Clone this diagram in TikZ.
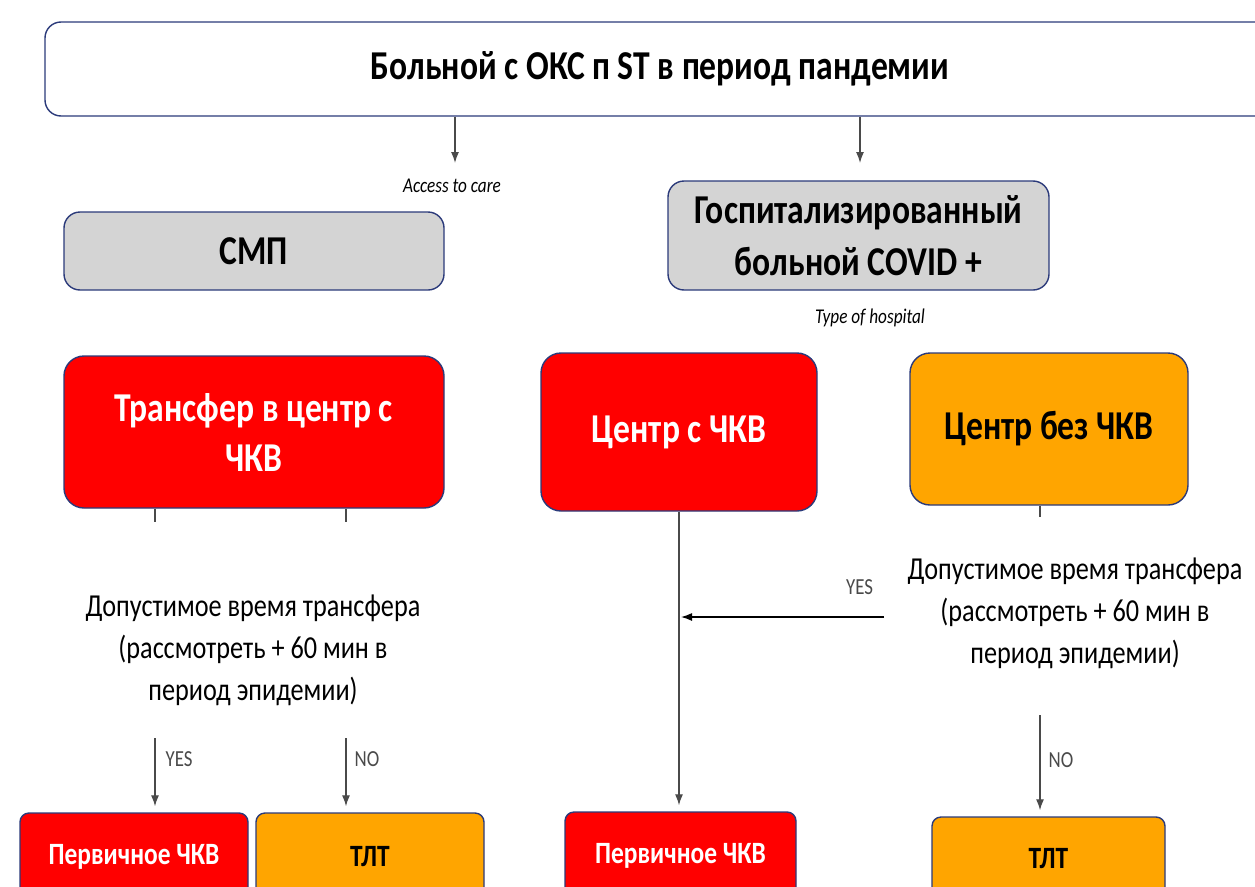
\documentclass[tikz,border=0pt]{standalone}
\usepackage{fontspec}
\setmainfont{Carlito}
\newfontfamily\cond[FakeStretch=0.82]{Carlito}
\usetikzlibrary{arrows.meta}
\definecolor{navy}{HTML}{2B3A7A}
\definecolor{boxgray}{HTML}{D4D4D4}
\definecolor{myred}{HTML}{FF0000}
\definecolor{myorange}{HTML}{FFA500}
\definecolor{lingray}{HTML}{4A4A4A}
\tikzset{
  box/.style={draw=navy, line width=1.4pt, rounded corners=16pt, align=center, inner sep=0pt, font=\cond\bfseries},
  graybox/.style={box, fill=boxgray, text=black},
  redbox/.style={box, fill=myred, text=white},
  orangebox/.style={box, fill=myorange, text=black},
  smallbox/.style={rounded corners=9pt},
  conn/.style={draw=lingray, line width=1.3pt},
  arr/.style={conn, -{Latex[length=11pt,width=8pt]}, shorten >=6pt},
  lbl/.style={font=\cond\fontsize{23}{26}\selectfont, text=lingray, inner sep=0pt},
  small/.style={font=\cond\itshape\fontsize{21}{24}\selectfont, inner sep=0pt},
  dec/.style={align=center, font=\cond\fontsize{32}{42}\selectfont, inner sep=0pt},
  bigtxt/.style={font=\cond\bfseries\fontsize{41}{50}\selectfont},
  bottxt/.style={font=\cond\bfseries\fontsize{31}{34}\selectfont}
}
\begin{document}
\begin{tikzpicture}[x=1pt,y=-1pt]
\useasboundingbox (0,0) rectangle (1255,886);
% boxes
\node[box, fill=white, minimum width=1230pt, minimum height=94pt, font=\cond\bfseries\fontsize{41}{44}\selectfont] (top) at (660,69) {\raisebox{-4pt}{Больной с ОКС п ST в период пандемии}};
\node[graybox, bigtxt, minimum width=380pt, minimum height=78pt] (smp) at (254,251) {СМП};
\node[graybox, minimum width=381pt, minimum height=109pt, font=\cond\bfseries\fontsize{41}{52}\selectfont] (hosp) at (858.5,235.5) {Госпитализированный\\больной COVID +};
\node[redbox, bigtxt, rounded corners=20pt, minimum width=380pt, minimum height=152pt] (transfer) at (254,432) {Трансфер в центр с\\ЧКВ};
\node[redbox, bigtxt, rounded corners=20pt, minimum width=276pt, minimum height=158pt] (cpci) at (679,432) {Центр с ЧКВ};
\node[orangebox, bigtxt, rounded corners=20pt, minimum width=278pt, minimum height=152pt] (cnopci) at (1049,429) {Центр без ЧКВ};
\node[redbox, smallbox, bottxt, minimum width=228pt, minimum height=88pt] (pci1) at (134,857) {Первичное ЧКВ};
\node[orangebox, smallbox, bottxt, minimum width=228pt, minimum height=88pt] (tlt1) at (370,857) {ТЛТ};
\node[redbox, smallbox, bottxt, minimum width=231pt, minimum height=88pt] (pci2) at (680.5,856) {Первичное ЧКВ};
\node[orangebox, smallbox, bottxt, minimum width=233pt, minimum height=84pt] (tlt2) at (1048.5,859) {ТЛТ};
% texts
\node[small] (access) at (452,186) {Access to care};
\node[small] (type) at (870,318) {Type of hospital};
\node[dec] (dec1) at (253,650) {Допустимое время трансфера\\(рассмотреть + 60 мин в\\период эпидемии)};
\node[dec] (dec2) at (1075,613) {Допустимое время трансфера\\(рассмотреть + 60 мин в\\период эпидемии)};
% coordinates
\coordinate (a1) at (455,163);
\coordinate (a2) at (860,163);
\coordinate (t1) at (155,522);
\coordinate (t2) at (346,522);
\coordinate (s1) at (155,738);
\coordinate (s2) at (346,738);
\coordinate (t3) at (1040,517);
\coordinate (s3) at (1040,715);
\coordinate (y0) at (884,617);
\coordinate (y1) at (681,617);
% connectors
\draw[arr, shorten >=0pt] (top.south -| a1) -- (a1);
\draw[arr, shorten >=0pt] (top.south -| a2) -- (a2);
\draw[conn] (transfer.south -| t1) -- (t1);
\draw[conn] (transfer.south -| t2) -- (t2);
\draw[arr] (s1) -- (pci1.north -| s1) node[lbl, pos=0.28, right=10pt] {YES};
\draw[arr] (s2) -- (tlt1.north -| s2) node[lbl, pos=0.28, right=8pt] {NO};
\draw[arr] (cpci.south) -- (pci2.north -| cpci.south);
\draw[arr, draw=black, shorten >=0pt] (y0) -- (y1) node[lbl, pos=0.12, above=22pt] {YES};
\draw[conn] (cnopci.south -| t3) -- (t3);
\draw[arr] (s3) -- (tlt2.north -| s3) node[lbl, pos=0.45, right=8pt] {NO};
\end{tikzpicture}
\end{document}
